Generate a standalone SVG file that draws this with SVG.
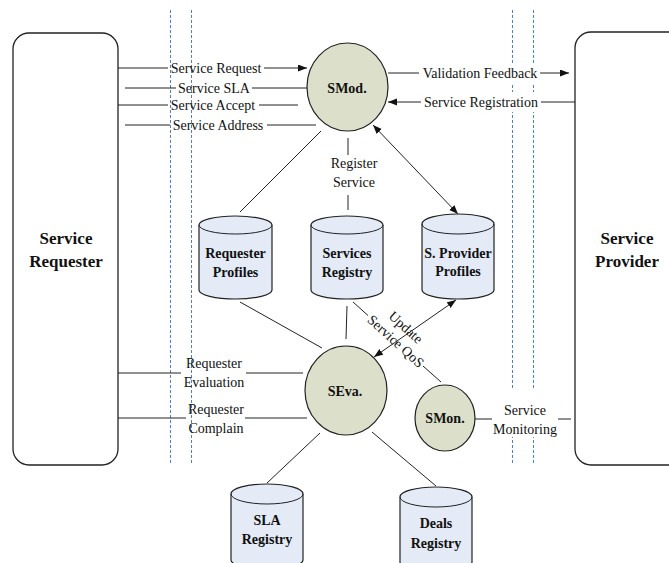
<svg xmlns="http://www.w3.org/2000/svg" width="669" height="563" viewBox="0 0 669 563">
<defs>
<marker id="arr" markerUnits="userSpaceOnUse" markerWidth="10" markerHeight="8" refX="9" refY="3.5" orient="auto-start-reverse">
<path d="M0,0 L9,3.5 L0,7 z" fill="#111"/>
</marker>
<style>
.t{font-family:"Liberation Serif","Times New Roman",serif;font-size:14px;fill:#111;text-anchor:middle}
.b{font-family:"Liberation Serif","Times New Roman",serif;font-size:14px;font-weight:bold;fill:#111;text-anchor:middle}
.big{font-family:"Liberation Serif","Times New Roman",serif;font-size:17px;font-weight:bold;fill:#111;text-anchor:middle}
.ln{stroke:#222;stroke-width:1;fill:none}
.dash{stroke:#4a7fd0;stroke-width:1;stroke-dasharray:3 2;fill:none}
.circ{fill:#dcdfc9;stroke:#222;stroke-width:1.2}
.cyl{fill:#e4eaf6;stroke:#222;stroke-width:1.2}
.box{fill:#fff;stroke:#222;stroke-width:1.3}
.wb{fill:#fff;stroke:none}
</style>
</defs>
<rect width="669" height="563" fill="#fff"/>

<g id="separators">
<line class="dash" x1="170.5" y1="10" x2="170.5" y2="463"/>
<line class="dash" x1="191.5" y1="10" x2="191.5" y2="463"/>
<line class="dash" x1="512.5" y1="10" x2="512.5" y2="465"/>
<line class="dash" x1="533.5" y1="10" x2="533.5" y2="465"/>
</g>

<g id="connectors">
<line class="ln" x1="118" y1="68" x2="168" y2="68"/>
<line class="ln" x1="264" y1="68" x2="307" y2="68" marker-end="url(#arr)"/>
<line class="ln" x1="125" y1="88" x2="176" y2="88"/>
<line class="ln" x1="252" y1="88" x2="307" y2="88"/>
<line class="ln" x1="118" y1="105" x2="168" y2="105"/>
<line class="ln" x1="259" y1="105" x2="298" y2="105"/>
<line class="ln" x1="125" y1="125" x2="170" y2="125"/>
<line class="ln" x1="267" y1="125" x2="316" y2="125"/>
<line class="ln" x1="388" y1="73" x2="419" y2="73"/>
<line class="ln" x1="540" y1="73" x2="569" y2="73" marker-end="url(#arr)"/>
<line class="ln" x1="575" y1="102" x2="541" y2="102"/>
<line class="ln" x1="421" y1="102" x2="388" y2="102" marker-end="url(#arr)"/>
<line class="ln" x1="348" y1="138" x2="348" y2="155"/>
<line class="ln" x1="348" y1="195" x2="348" y2="210"/>
<line class="ln" x1="373" y1="125" x2="458" y2="214" marker-start="url(#arr)" marker-end="url(#arr)"/>
<line class="ln" x1="321" y1="131" x2="240" y2="212"/>
<line class="ln" x1="240" y1="302" x2="322" y2="348"/>
<line class="ln" x1="347" y1="306" x2="346" y2="339"/>
<line class="ln" x1="374" y1="357" x2="456" y2="300" marker-start="url(#arr)" marker-end="url(#arr)"/>
<line class="ln" x1="353" y1="302" x2="368" y2="315.5"/>
<line class="ln" x1="423" y1="366" x2="441" y2="382"/>
<line class="ln" x1="118" y1="373" x2="181" y2="373"/>
<line class="ln" x1="246" y1="373" x2="303" y2="373"/>
<line class="ln" x1="118" y1="418" x2="186" y2="418"/>
<line class="ln" x1="245" y1="418" x2="307" y2="418"/>
<line class="ln" x1="475" y1="419" x2="492" y2="419"/>
<line class="ln" x1="558" y1="419" x2="571" y2="419"/>
<line class="ln" x1="320" y1="433" x2="267" y2="483"/>
<line class="ln" x1="372" y1="432" x2="436" y2="486"/>

<rect class="wb" x="420" y="63" width="120" height="21"/>
<rect class="wb" x="422" y="92" width="118" height="20"/>
<rect class="wb" x="493" y="389" width="64" height="48"/>

<text class="t" x="216" y="73">Service Request</text>
<text class="t" x="214" y="93">Service SLA</text>
<text class="t" x="213" y="110">Service Accept</text>
<text class="t" x="218" y="130">Service Address</text>
<text class="t" x="480" y="78">Validation Feedback</text>
<text class="t" x="481" y="107">Service Registration</text>
<text class="t" x="354" y="168">Register</text>
<text class="t" x="354" y="187">Service</text>
<text class="t" x="214" y="368">Requester</text>
<text class="t" x="214" y="387">Evaluation</text>
<text class="t" x="216" y="414">Requester</text>
<text class="t" x="216" y="433">Complain</text>
<text class="t" x="525" y="415">Service</text>
<text class="t" x="525" y="434">Monitoring</text>
<g transform="translate(396,341) rotate(42.3)">
<text class="t" x="-2" y="-12">Update</text>
<text class="t" x="0" y="5">Service QoS</text>
</g>
</g>

<g id="service-requester">
<rect class="box" x="13" y="33" width="105" height="432" rx="16"/>
<text class="big" x="66" y="244">Service</text>
<text class="big" x="66" y="267">Requester</text>
</g>

<g id="service-provider">
<rect class="box" x="575" y="32" width="110" height="433" rx="16"/>
<text class="big" x="627" y="244">Service</text>
<text class="big" x="627" y="267">Provider</text>
</g>

<g id="smod">
<ellipse class="circ" cx="347.5" cy="87" rx="40.5" ry="44"/>
<text class="b" x="347" y="93">SMod.</text>
</g>

<g id="seva">
<ellipse class="circ" cx="346" cy="390.5" rx="41" ry="44.5"/>
<text class="b" x="345" y="396">SEva.</text>
</g>

<g id="smon">
<ellipse class="circ" cx="445" cy="418" rx="30" ry="33"/>
<text class="b" x="445" y="423">SMon.</text>
</g>

<g id="requester-profiles">
<path class="cyl" d="M199,225 A36.5,9 0 0 1 272,225 V290 A36.5,9 0 0 1 199,290 Z"/>
<path class="ln" d="M199,225 A36.5,9 0 0 0 272,225"/>
<text class="b" x="235.5" y="258">Requester</text>
<text class="b" x="235.5" y="277">Profiles</text>
</g>

<g id="services-registry">
<path class="cyl" d="M311,225 A36,9 0 0 1 383,225 V290 A36,9 0 0 1 311,290 Z"/>
<path class="ln" d="M311,225 A36,9 0 0 0 383,225"/>
<text class="b" x="347" y="258">Services</text>
<text class="b" x="347" y="277">Registry</text>
</g>

<g id="provider-profiles">
<path class="cyl" d="M422,224 A36,10 0 0 1 494,224 V290 A36,9 0 0 1 422,290 Z"/>
<path class="ln" d="M422,224 A36,10 0 0 0 494,224"/>
<text class="b" x="458" y="258">S. Provider</text>
<text class="b" x="458" y="276">Profiles</text>
</g>

<g id="sla-registry">
<path class="cyl" d="M231,494 A36,10 0 0 1 303,494 V560 A36,9 0 0 1 231,560 Z"/>
<path class="ln" d="M231,494 A36,10 0 0 0 303,494"/>
<text class="b" x="267" y="525">SLA</text>
<text class="b" x="267" y="544">Registry</text>
</g>

<g id="deals-registry">
<path class="cyl" d="M400,497 A36,10 0 0 1 472,497 V562 A36,9 0 0 1 400,562 Z"/>
<path class="ln" d="M400,497 A36,10 0 0 0 472,497"/>
<text class="b" x="436" y="528">Deals</text>
<text class="b" x="436" y="548">Registry</text>
</g>
</svg>
